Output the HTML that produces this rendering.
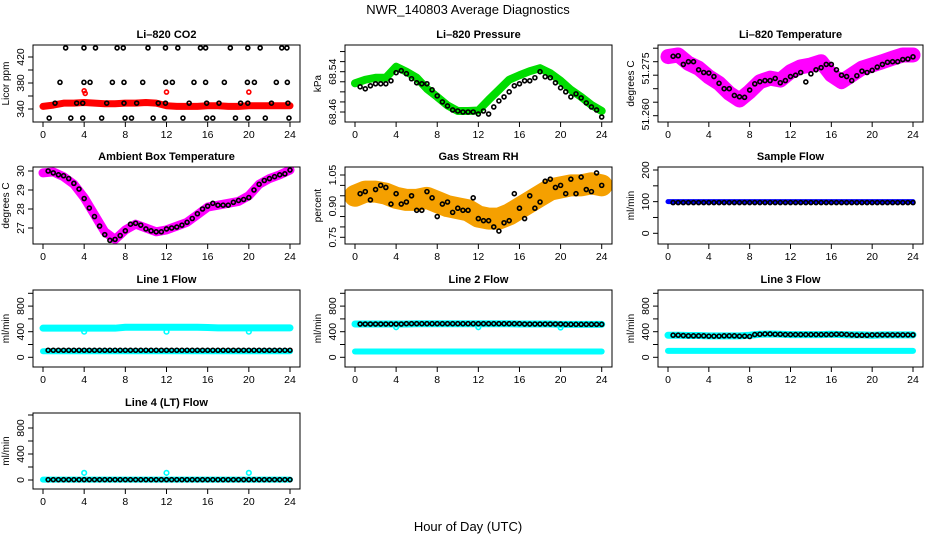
<!DOCTYPE html>
<html><head><meta charset="utf-8"><style>
body{margin:0;background:#fff}
svg{display:block;font-family:"Liberation Sans",sans-serif}
</style></head><body>
<svg id="c" width="936" height="540" viewBox="0 0 936 540">
<text x="468" y="14" text-anchor="middle" font-size="13">NWR_140803  Average Diagnostics</text>
<text x="468" y="531" text-anchor="middle" font-size="13">Hour of Day (UTC)</text>
</svg>
<script>
const hours = [0,1,2,3,4,5,6,7,8,9,10,11,12,13,14,15,16,17,18,19,20,21,22,23,24];
const halfHours = [0.5,1,1.5,2,2.5,3,3.5,4,4.5,5,5.5,6,6.5,7,7.5,8,8.5,9,9.5,10,10.5,11,11.5,12,12.5,13,13.5,14,14.5,15,15.5,16,16.5,17,17.5,18,18.5,19,19.5,20,20.5,21,21.5,22,22.5,23,23.5,24];
const xTickLabels = ['0','4','8','12','16','20','24'];
const xTickValues = [0,4,8,12,16,20,24];

const co2Band = [344,346,349,349,350,349,348,348,349,349,350,349,345,344,344,344,345,345,344,344,345,345,345,345,345];
const co2RedHours = [4,4.1,12,20];
const co2RedVals = [368,364,366,366];
const co2BlackHours = [2.2,3.98,5.1,7.2,7.8,10.2,11.9,13.1,15.3,15.8,18.2,19.9,21.1,23.2,23.7,
 1.65,3.98,4.57,6.74,7.87,9.69,11.92,12.57,14.67,15.8,17.62,19.86,20.54,22.67,23.74,
 1.17,3.27,3.86,6.19,7.87,9.1,11.2,11.9,14.2,15.9,17.1,19.2,19.9,22.2,23.8,
 0.6,2.7,3.86,5.7,7.97,8.6,10.7,11.8,13.6,15.9,16.5,18.7,19.9,21.6,23.9];
const co2BlackVals = [434,434,434,434,434,434,434,434,434,434,434,434,434,434,434,
 381,381,381,381,381,381,381,381,381,381,381,381,381,381,381,
 349,349,349,349,349,349,349,349,349,349,349,349,349,349,349,
 326,326,326,326,326,326,326,326,326,326,326,326,326,326,326];

const presBand = [68.517,68.524,68.528,68.528,68.550,68.540,68.528,68.506,68.490,68.473,68.462,68.462,68.463,68.484,68.504,68.524,68.533,68.541,68.547,68.537,68.522,68.504,68.490,68.474,68.462];
const presBlack = [68.510,68.506,68.512,68.516,68.516,68.516,68.522,68.538,68.542,68.536,68.526,68.518,68.516,68.516,68.504,68.492,68.480,68.472,68.464,68.462,68.460,68.460,68.460,68.456,68.462,68.456,68.470,68.482,68.490,68.500,68.512,68.516,68.522,68.522,68.528,68.540,68.530,68.528,68.518,68.508,68.500,68.490,68.496,68.488,68.478,68.470,68.464,68.450];

const tempBand = [51.2819,51.2825,51.2794,51.2776,51.2744,51.2720,51.2683,51.2658,51.2689,51.2726,51.2739,51.2732,51.2763,51.2781,51.2788,51.2800,51.2751,51.2726,51.2751,51.2776,51.2788,51.2800,51.2813,51.2825,51.2825];
const tempBlack = [51.2820,51.2822,51.2790,51.2800,51.2800,51.2770,51.2760,51.2758,51.2745,51.2720,51.2700,51.2700,51.2675,51.2670,51.2668,51.2695,51.2718,51.2726,51.2730,51.2730,51.2738,51.2722,51.2730,51.2745,51.2750,51.2760,51.2725,51.2755,51.2770,51.2778,51.2790,51.2790,51.2770,51.2750,51.2745,51.2730,51.2748,51.2765,51.2760,51.2768,51.2780,51.2790,51.2798,51.2800,51.2800,51.2808,51.2810,51.2818];

const ambBand = [29.9,29.95,29.7,29.3,28.6,27.7,26.8,26.4,26.9,27.2,27.0,26.8,26.9,27.1,27.3,27.7,28.1,28.2,28.3,28.4,28.7,29.3,29.6,29.8,30.05];
const ambBlack = [30.0,29.9,29.8,29.75,29.6,29.35,29.05,28.55,28.05,27.6,27.1,26.65,26.35,26.4,26.6,26.85,27.2,27.25,27.15,26.95,26.85,26.8,26.8,26.95,27.0,27.05,27.15,27.3,27.5,27.75,28.0,28.15,28.3,28.2,28.2,28.2,28.35,28.45,28.5,28.6,29.0,29.3,29.5,29.6,29.7,29.8,29.85,30.05];

const rhBand = [0.95,0.97,0.97,0.96,0.94,0.93,0.93,0.94,0.92,0.90,0.89,0.88,0.85,0.84,0.84,0.86,0.89,0.92,0.95,0.98,0.99,1.00,1.00,1.01,1.00];
const rhBlack = [0.96,0.97,0.93,0.98,1.00,0.99,0.91,0.96,0.91,0.92,0.95,0.88,0.88,0.97,0.94,0.85,0.91,0.92,0.87,0.89,0.88,0.88,0.94,0.84,0.83,0.83,0.80,0.78,0.82,0.83,0.96,0.89,0.84,0.95,0.89,0.92,1.02,1.03,0.99,1.00,0.96,1.03,0.96,1.04,0.98,0.97,1.06,1.00];

const sampleBand = [100,100,100,100,100,100,100,100,100,100,100,100,100,100,100,100,100,100,100,100,100,100,100,100,100];
const sampleBlack = [97,97,97,97,97,97,97,97,97,97,97,97,97,97,97,97,97,97,97,97,97,97,97,97,97,97,97,97,97,97,97,97,97,97,97,97,97,97,97,97,97,97,97,97,97,97,97,97];

const l1High = [455,455,455,455,455,455,455,455,470,470,470,470,470,470,470,470,465,460,460,460,460,460,460,460,460];
const l1Low = [95,95,95,95,95,95,95,95,95,95,95,95,95,95,95,95,95,95,95,95,95,95,95,95,95];
const l1Black = [110,110,110,110,110,110,110,110,110,110,110,110,110,110,110,110,110,110,110,110,110,110,110,110,110,110,110,110,110,110,110,110,110,110,110,110,110,110,110,110,110,110,110,110,110,110,110,110];
const l1OutHours = [4,12,20];
const l1OutVals = [400,400,400];

const l2High = [520,520,520,520,520,520,525,525,525,525,525,525,525,525,525,525,520,520,520,520,515,515,515,515,515];
const l2Low = [90,90,90,90,90,90,90,90,90,90,90,90,90,90,90,90,90,90,90,90,90,90,90,90,90];
const l2Black = [520,520,520,520,520,520,520,520,520,525,525,525,525,525,525,525,525,525,525,525,525,525,525,525,525,525,525,525,525,525,525,525,520,520,520,520,520,520,520,520,515,515,515,515,515,515,515,515];
const l2OutHours = [4,12,20];
const l2OutVals = [470,470,465];

const l3High = [345,345,340,340,335,335,335,335,345,360,365,360,355,355,355,355,360,355,350,350,345,350,350,350,350];
const l3Low = [100,100,100,100,100,100,100,100,100,100,100,100,100,100,100,100,100,100,100,100,100,100,100,100,100];
const l3Black = [345,345,340,335,335,335,335,330,330,330,335,335,335,330,330,325,355,360,365,365,360,360,355,355,355,355,355,355,355,355,355,355,360,360,355,350,345,345,345,350,350,350,350,350,350,350,350,350];

const l4Band = [5,5,5,5,5,5,5,5,5,5,5,5,5,5,5,5,5,5,5,5,5,5,5,5,5];
const l4Black = [5,5,5,5,5,5,5,5,5,5,5,5,5,5,5,5,5,5,5,5,5,5,5,5,5,5,5,5,5,5,5,5,5,5,5,5,5,5,5,5,5,5,5,5,5,5,5,5];
const l4OutHours = [4,12,20];
const l4OutVals = [110,110,110];

const NS='http://www.w3.org/2000/svg';
const svg=document.getElementById('c');
const cols=[{bx0:33,bx1:300,x0:43,x24:290},{bx0:345,bx1:612,x0:355,x24:601.7},{bx0:658,bx1:923,x0:668,x24:913}];
const rows=[{by0:45,by1:122},{by0:167,by1:244},{by0:290,by1:367},{by0:413,by1:489}];
function mk(tag,attrs,parent){const e=document.createElementNS(NS,tag);for(const k in attrs)e.setAttribute(k,attrs[k]);(parent||svg).appendChild(e);return e;}

function panel(name,ci,ri,title,ylab,v1,y1,v2,y2,ticks,labVals,labTxt){
  const c=cols[ci],r=rows[ri];
  const g=mk('g',{});
  
  
  const xs=h=>c.x0+(c.x24-c.x0)*h/24;
  const ys=v=>y1+(v-v1)*(y2-y1)/(v2-v1);
  const clipId='clip-'+name;
  const cp=mk('clipPath',{id:clipId},g);
  mk('rect',{x:c.bx0,y:r.by0,width:c.bx1-c.bx0,height:r.by1-r.by0},cp);
  const plot=mk('g',{'clip-path':'url(#'+clipId+')'},g);
  
  
  const t=mk('text',{x:(c.bx0+c.bx1)/2,y:r.by0-7,'text-anchor':'middle','font-size':'11','font-weight':'bold'},g);
  t.textContent=title;
  
  
  const box=mk('rect',{x:c.bx0,y:r.by0,width:c.bx1-c.bx0,height:r.by1-r.by0,fill:'none',stroke:'#000','stroke-width':1},g);
  
  
  const xa=mk('g',{},g);
  
  
  xTickValues.forEach((v,i)=>{
    mk('line',{x1:xs(v),x2:xs(v),y1:r.by1,y2:r.by1+5,stroke:'#000'},xa);
    const tl=mk('text',{x:xs(v),y:r.by1+16,'text-anchor':'middle','font-size':'10.5'},xa);
    tl.textContent=xTickLabels[i];
    
    
  });
  const ya=mk('g',{},g);
  
  
  ticks.forEach(v=>{mk('line',{x1:c.bx0-5,x2:c.bx0,y1:ys(v),y2:ys(v),stroke:'#000'},ya);});
  labVals.forEach((v,i)=>{
    const yy=ys(v),xx=c.bx0-9;
    const tl=mk('text',{x:xx,y:yy,'text-anchor':'middle','font-size':'10.5',transform:'rotate(-90 '+xx+' '+yy+')'},ya);
    tl.textContent=labTxt[i];
    
    
  });
  const my=(r.by0+r.by1)/2,mx=c.bx0-24;
  const yl=mk('text',{x:mx,y:my,'text-anchor':'middle','font-size':'10',transform:'rotate(-90 '+mx+' '+my+')'},g);
  yl.textContent=ylab;
  
  
  return {plot,xs,ys};
}
function band(p,hs,vals,color,w,nm){
  const pts=hs.map((h,i)=>p.xs(h)+','+p.ys(vals[i])).join(' ');
  const e=mk('polyline',{points:pts,fill:'none',stroke:color,'stroke-width':w,'stroke-linejoin':'round','stroke-linecap':'round'},p.plot);
  
  
}
function pts(p,hs,vals,color,rr,sw,nm){
  hs.forEach((h,i)=>{
    const e=mk('circle',{cx:p.xs(h),cy:p.ys(vals[i]),r:rr,fill:'none',stroke:color,'stroke-width':sw},p.plot);
    
    
  });
}

let p;
p=panel('co2',0,0,'Li\u2013820 CO2','Licor ppm',340,109,420,57,[340,360,380,400,420],[340,380,420],['340','380','420']);
band(p,hours,co2Band,'#ff0000',7,'co2-red-band');
pts(p,co2RedHours,co2RedVals,'#ff0000',2,1.6,'co2-red-point');
pts(p,co2BlackHours,co2BlackVals,'#000',2,1.6,'co2-black-point');

p=panel('pressure',1,0,'Li\u2013820 Pressure','kPa',68.46,112,68.54,71.7,[68.46,68.48,68.50,68.52,68.54,68.56,68.58],[68.46,68.54],['68.46','68.54']);
band(p,hours,presBand,'#00dd00',8,'pressure-green-band');
pts(p,halfHours,presBlack,'#000',2,1.6,'pressure-black-point');

p=panel('temperature',2,0,'Li\u2013820 Temperature','degrees C',51.260,115.7,51.285,48.2,[51.260,51.265,51.270,51.275,51.280,51.285],[51.2605,51.2775],['51.260','51.275']);
band(p,hours,tempBand,'#ff00ff',15,'temperature-magenta-band');
pts(p,halfHours,tempBlack,'#000',2,1.6,'temperature-black-point');

p=panel('ambient',0,1,'Ambient Box Temperature','degrees C',30,171,27,228,[27,28,29,30],[27,28,29,30],['27','28','29','30']);
band(p,hours,ambBand,'#ff00ff',9,'ambient-magenta-band');
pts(p,halfHours,ambBlack,'#000',2,1.6,'ambient-black-point');

p=panel('rh',1,1,'Gas Stream RH','percent',1.05,175,0.75,237.3,[0.75,0.80,0.85,0.90,0.95,1.00,1.05],[0.75,0.90,1.05],['0.75','0.90','1.05']);
band(p,hours,rhBand,'#f5a000',22,'rh-orange-band');
pts(p,halfHours,rhBlack,'#000',2,1.6,'rh-black-point');

p=panel('sample-flow',2,1,'Sample Flow','ml/min',0,233.3,200,170,[0,50,100,150,200],[0,100,200],['0','100','200']);
band(p,hours,sampleBand,'#0000ff',5,'sample-blue-band');
pts(p,halfHours,sampleBlack,'#000',2,1.6,'sample-black-point');

const fT=[0,200,400,600,800,1000],fV=[0,400,800],fL=['0','400','800'];
p=panel('line1',0,2,'Line 1 Flow','ml/min',0,357.3,1000,293.3,fT,fV,fL);
band(p,hours,l1High,'#00ffff',7,'line1-cyan-high');
band(p,hours,l1Low,'#00ffff',6,'line1-cyan-low');
pts(p,l1OutHours,l1OutVals,'#00ffff',2.3,1.6,'line1-cyan-outlier');
pts(p,halfHours,l1Black,'#000',2,1.6,'line1-black-point');

p=panel('line2',1,2,'Line 2 Flow','ml/min',0,357.3,1000,293.3,fT,fV,fL);
band(p,hours,l2High,'#00ffff',7,'line2-cyan-high');
band(p,hours,l2Low,'#00ffff',6,'line2-cyan-low');
pts(p,l2OutHours,l2OutVals,'#00ffff',2.3,1.6,'line2-cyan-outlier');
pts(p,halfHours,l2Black,'#000',2,1.6,'line2-black-point');

p=panel('line3',2,2,'Line 3 Flow','ml/min',0,357.3,1000,293.3,fT,fV,fL);
band(p,hours,l3High,'#00ffff',7,'line3-cyan-high');
band(p,hours,l3Low,'#00ffff',6,'line3-cyan-low');
pts(p,halfHours,l3Black,'#000',2,1.6,'line3-black-point');

p=panel('line4',0,3,'Line 4 (LT) Flow','ml/min',0,480,1000,415,fT,fV,fL);
band(p,hours,l4Band,'#00ffff',6,'line4-cyan-band');
pts(p,l4OutHours,l4OutVals,'#00ffff',2.3,1.6,'line4-cyan-outlier');
pts(p,halfHours,l4Black,'#000',2,1.6,'line4-black-point');
</script>
</body></html>
